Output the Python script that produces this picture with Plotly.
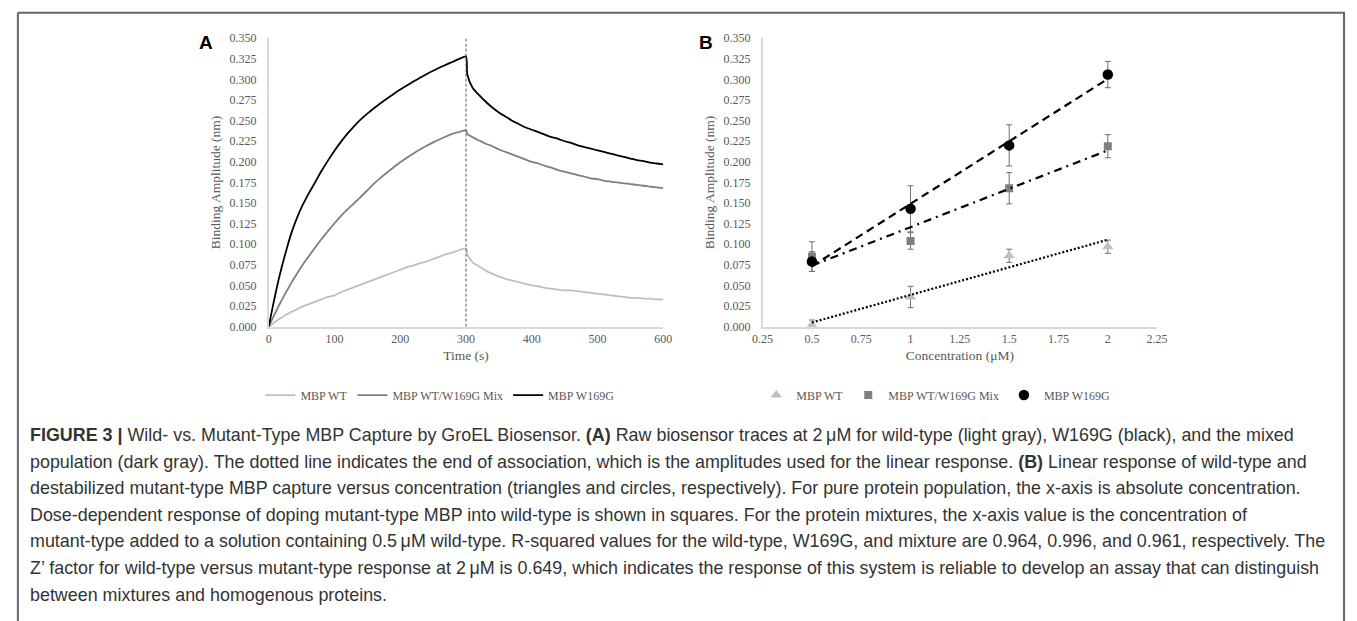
import numpy as np
import plotly.graph_objects as go

W, H = 1357, 621

# ---------------- Panel A data ----------------
TIME = [0, 5, 10, 15, 20, 25, 30, 35, 40, 45, 50, 55, 60, 70, 80, 90, 100, 110, 120, 130, 140, 150,
        160, 170, 180, 190, 200, 210, 220, 230, 240, 250, 260, 270, 280, 290, 300,
        302, 310, 320, 330, 340, 350, 360, 370, 380, 390, 400, 410, 420, 430, 440, 450,
        460, 470, 480, 490, 500, 510, 520, 530, 540, 550, 560, 570, 580, 590, 600]

WT_TRACE = [0.000, 0.003, 0.006, 0.009, 0.011, 0.014, 0.016, 0.018, 0.020, 0.022, 0.024, 0.0255, 0.027,
            0.030, 0.033, 0.036, 0.038, 0.042, 0.045, 0.048, 0.051, 0.054, 0.057, 0.060, 0.063, 0.066,
            0.069, 0.072, 0.074, 0.077, 0.079, 0.082, 0.085, 0.088, 0.090, 0.093, 0.095,
            0.088, 0.078, 0.073, 0.068, 0.064, 0.061, 0.058, 0.056, 0.054, 0.052, 0.050, 0.049,
            0.047, 0.046, 0.045, 0.044, 0.044, 0.043, 0.042, 0.041, 0.040, 0.039, 0.038, 0.037,
            0.036, 0.035, 0.035, 0.034, 0.034, 0.033, 0.033]

MIX_TRACE = [0.000, 0.0085, 0.0168, 0.0248, 0.0325, 0.040, 0.047, 0.054, 0.0605, 0.067, 0.073, 0.079,
             0.0845, 0.0955, 0.106, 0.116, 0.1255, 0.1345, 0.1425, 0.150, 0.1575, 0.1655, 0.1735,
             0.1805, 0.187, 0.1935, 0.1995, 0.205, 0.2102, 0.215, 0.2195, 0.2237, 0.2275, 0.231,
             0.2342, 0.2365, 0.238,
             0.234, 0.230, 0.226, 0.222, 0.219, 0.215, 0.212, 0.209, 0.206, 0.203, 0.200, 0.198,
             0.195, 0.193, 0.190, 0.188, 0.186, 0.184, 0.182, 0.180, 0.179, 0.177, 0.176, 0.175,
             0.174, 0.173, 0.172, 0.171, 0.170, 0.169, 0.168]

MUT_TRACE = [0.000, 0.020, 0.039, 0.057, 0.073, 0.088, 0.102, 0.115, 0.126, 0.136, 0.145, 0.153,
             0.1605, 0.1745, 0.1885, 0.2015, 0.2135, 0.2245, 0.2345, 0.2435, 0.2515, 0.2585,
             0.2650, 0.2712, 0.2770, 0.2825, 0.2877, 0.2927, 0.2975, 0.3020, 0.3064, 0.3106,
             0.3145, 0.318, 0.3215, 0.325, 0.328,
             0.306, 0.290, 0.281, 0.273, 0.266, 0.260, 0.255, 0.250, 0.246, 0.242, 0.239, 0.236,
             0.233, 0.230, 0.228, 0.225, 0.223, 0.220, 0.218, 0.216, 0.214, 0.212, 0.210, 0.208,
             0.206, 0.204, 0.202, 0.201, 0.199, 0.198, 0.197]

END_ASSOC = 300
TIME_TICKS = [0, 100, 200, 300, 400, 500, 600]

# ---------------- Panel B data ----------------
CONC = [0.5, 1.0, 1.5, 2.0]
WT_AMP = [0.002, 0.036, 0.086, 0.097]
WT_ERR = [0.006, 0.013, 0.008, 0.008]
MIX_AMP = [0.085, 0.104, 0.168, 0.219]
MIX_ERR = [0.018, 0.010, 0.019, 0.014]
MUT_AMP = [0.079, 0.143, 0.220, 0.306]
MUT_ERR = [0.012, 0.028, 0.025, 0.016]

CONC_TICKS = [0.25, 0.5, 0.75, 1.0, 1.25, 1.5, 1.75, 2.0, 2.25]
CONC_TICK_LABELS = ["0.25", "0.5", "0.75", "1", "1.25", "1.5", "1.75", "2", "2.25"]
AMP_TICKS = [0.0, 0.025, 0.05, 0.075, 0.1, 0.125, 0.15, 0.175, 0.2, 0.225, 0.25, 0.275, 0.3, 0.325, 0.35]

SERIES = ["MBP WT", "MBP WT/W169G Mix", "MBP W169G"]

CAPTION = [
    "<b>FIGURE 3 |</b> Wild- vs. Mutant-Type MBP Capture by GroEL Biosensor. <b>(A)</b> Raw biosensor traces at 2\u2009\u03bcM for wild-type (light gray), W169G (black), and the mixed",
    "population (dark gray). The dotted line indicates the end of association, which is the amplitudes used for the linear response. <b>(B)</b> Linear response of wild-type and",
    "destabilized mutant-type MBP capture versus concentration (triangles and circles, respectively). For pure protein population, the x-axis is absolute concentration.",
    "Dose-dependent response of doping mutant-type MBP into wild-type is shown in squares. For the protein mixtures, the x-axis value is the concentration of",
    "mutant-type added to a solution containing 0.5\u2009\u03bcM wild-type. R-squared values for the wild-type, W169G, and mixture are 0.964, 0.996, and 0.961, respectively. The",
    "Z\u2019 factor for wild-type versus mutant-type response at 2\u2009\u03bcM is 0.649, which indicates the response of this system is reliable to develop an assay that can distinguish",
    "between mixtures and homogenous proteins.",
]

# ---------------- styling ----------------
C_WT, C_MIX, C_MUT = "#bfbfbf", "#7f7f7f", "#000000"
SERIF = "Liberation Serif, Times New Roman, serif"
SANS = "Liberation Sans, Arial, sans-serif"
TXT = "#595959"

def px(x):
    return x / W

def py(y):
    return 1 - y / H

fig = go.Figure()

# Panel A traces
for name, vals, col in zip(SERIES, [WT_TRACE, MIX_TRACE, MUT_TRACE], [C_WT, C_MIX, C_MUT]):
    fig.add_trace(go.Scatter(x=TIME, y=vals, mode="lines", name=name,
                             line=dict(color=col, width=1.8, shape="spline", smoothing=0.6),
                             xaxis="x", yaxis="y", legend="legend"))

# Panel B markers with error bars
markers = [("triangle-up", C_WT, 10), ("square", C_MIX, 8), ("circle", C_MUT, 10.5)]
for name, amp, err, (sym, col, sz) in zip(SERIES, [WT_AMP, MIX_AMP, MUT_AMP],
                                         [WT_ERR, MIX_ERR, MUT_ERR], markers):
    fig.add_trace(go.Scatter(x=CONC, y=amp, mode="markers", name=name,
                             marker=dict(symbol=sym, color=col, size=sz, line=dict(width=0)),
                             error_y=dict(type="data", array=err, visible=True,
                                          color="#6f6f6f", thickness=1, width=3),
                             xaxis="x2", yaxis="y2", legend="legend2"))

# Linear trend lines (least squares fits of the data)
dashes = ["2px,2px", "8px,5px,2px,5px", "8px,5px"]
for amp, dsh in zip([WT_AMP, MIX_AMP, MUT_AMP], dashes):
    slope, icpt = np.polyfit(CONC, amp, 1)
    xs = np.array([CONC[0], CONC[-1]])
    fig.add_trace(go.Scatter(x=xs, y=slope * xs + icpt, mode="lines", showlegend=False,
                             hoverinfo="skip",
                             line=dict(color="black", width=2.2, dash=dsh),
                             xaxis="x2", yaxis="y2"))

ydom = [py(327), py(32)]
axis_common = dict(showgrid=False, zeroline=False, showline=True, linecolor="#d9d9d9",
                   linewidth=1.5, ticks="", tickfont=dict(family=SERIF, size=12, color=TXT))

fig.update_layout(
    width=W, height=H, margin=dict(l=0, r=0, t=0, b=0),
    paper_bgcolor="white", plot_bgcolor="white",
    xaxis=dict(domain=[px(262), px(663)], range=[0, 600], tickvals=TIME_TICKS,
               title=dict(text="Time (s)", font=dict(family=SERIF, size=13.5, color=TXT), standoff=6),
               anchor="y", **axis_common),
    yaxis=dict(domain=ydom, range=[0, 0.35], tickvals=AMP_TICKS, tickformat=".3f",
               ticklabelstandoff=8,
               title=dict(text="Binding Amplitude (nm)", font=dict(family=SERIF, size=13.5, color=TXT), standoff=6),
               anchor="x", **axis_common),
    xaxis2=dict(domain=[px(764), px(1165)], range=[0.25, 2.25], tickvals=CONC_TICKS,
                ticktext=CONC_TICK_LABELS,
                title=dict(text="Concentration (\u03bcM)", font=dict(family=SERIF, size=13.5, color=TXT), standoff=6),
                anchor="y2", **axis_common),
    yaxis2=dict(domain=ydom, range=[0, 0.35], tickvals=AMP_TICKS, tickformat=".3f",
                ticklabelstandoff=8,
                title=dict(text="Binding Amplitude (nm)", font=dict(family=SERIF, size=13.5, color=TXT), standoff=6),
                anchor="x2", **axis_common),
    legend=dict(orientation="h", x=px(436), xanchor="center", y=py(397), yanchor="middle",
                font=dict(family=SERIF, size=12, color=TXT), bgcolor="rgba(0,0,0,0)"),
    legend2=dict(orientation="h", x=px(940), xanchor="center", y=py(397), yanchor="middle",
                 font=dict(family=SERIF, size=12, color=TXT), bgcolor="rgba(0,0,0,0)",
                 itemwidth=30),
    showlegend=True,
)

# dotted line marking the end of association
fig.add_shape(type="line", xref="x", yref="y", x0=END_ASSOC, x1=END_ASSOC, y0=0, y1=0.35,
              line=dict(color="#595959", width=1, dash="3px,2px"))

# panel letters
for letter, xx in [("A", 198), ("B", 706)]:
    fig.add_annotation(text=f"<b>{letter}</b>", xref="paper", yref="paper", x=px(xx), y=py(36),
                       showarrow=False, xanchor="center", yanchor="middle",
                       font=dict(family=SANS, size=19, color="black"))

# frame lines
frame = dict(color="#666666", width=2)
fig.add_shape(type="line", xref="paper", yref="paper", x0=px(7), x1=px(1356), y0=py(6), y1=py(6), line=frame)
fig.add_shape(type="line", xref="paper", yref="paper", x0=px(7), x1=px(7), y0=py(6), y1=-0.02, line=frame)
fig.add_shape(type="line", xref="paper", yref="paper", x0=px(1355), x1=px(1355), y0=py(6), y1=-0.02, line=frame)

# caption
for i, line in enumerate(CAPTION):
    fig.add_annotation(text=line, xref="paper", yref="paper", x=px(17), y=py(438 + 27.2 * i),
                       showarrow=False, xanchor="left", yanchor="middle", align="left",
                       font=dict(family=SANS, size=17.9, color="#333333"))

fig.write_html("out.html", config={"displayModeBar": False},
               post_script="document.body.style.margin='0';document.body.style.overflow='hidden';")
